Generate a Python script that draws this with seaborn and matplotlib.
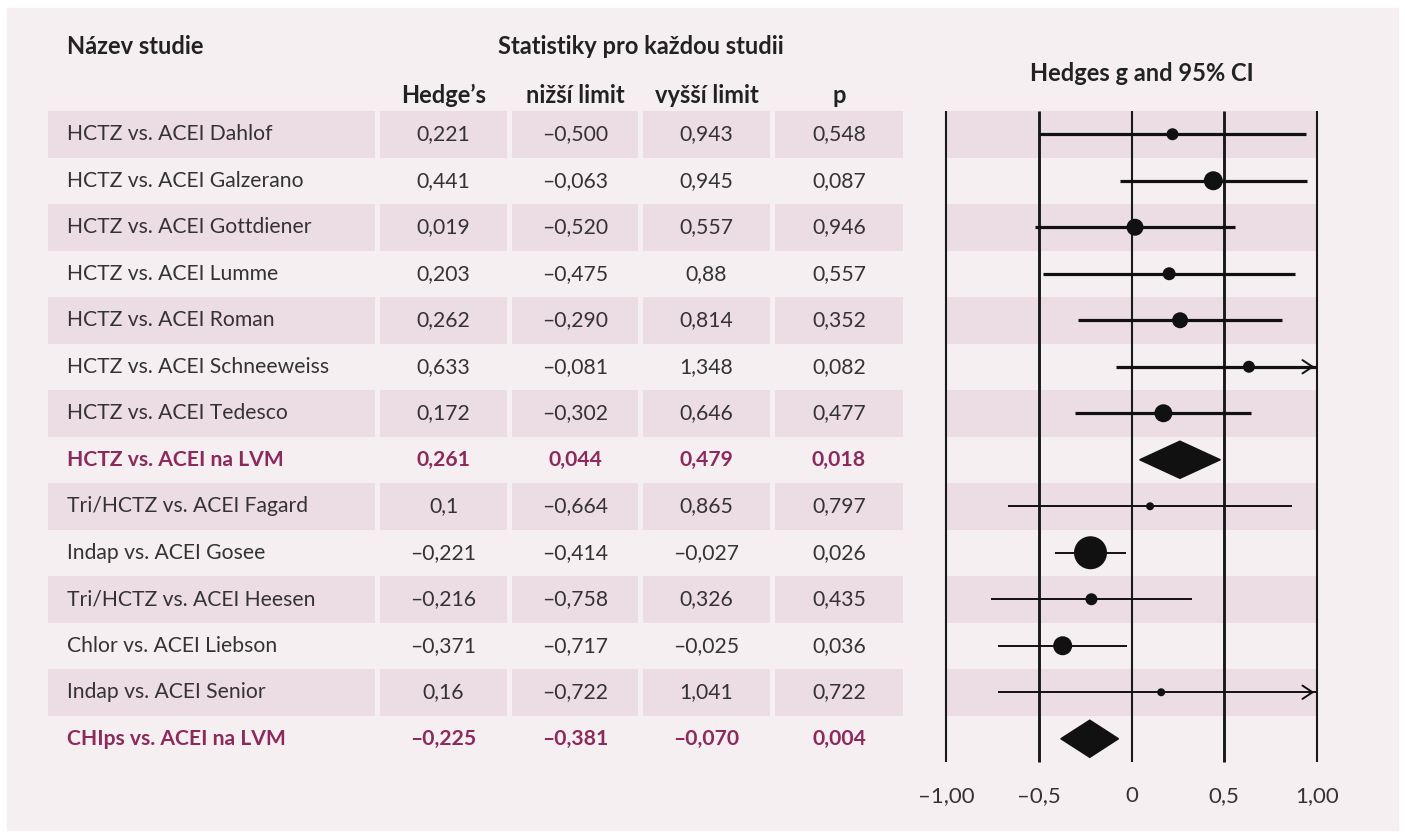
import matplotlib.pyplot as plt
import seaborn as sns
import pandas as pd
from matplotlib.patches import Rectangle, Polygon

# data
studies = ["HCTZ vs. ACEI Dahlof", "HCTZ vs. ACEI Galzerano", "HCTZ vs. ACEI Gottdiener",
           "HCTZ vs. ACEI Lumme", "HCTZ vs. ACEI Roman", "HCTZ vs. ACEI Schneeweiss",
           "HCTZ vs. ACEI Tedesco", "HCTZ vs. ACEI na LVM", "Tri/HCTZ vs. ACEI Fagard",
           "Indap vs. ACEI Gosee", "Tri/HCTZ vs. ACEI Heesen", "Chlor vs. ACEI Liebson",
           "Indap vs. ACEI Senior", "CHIps vs. ACEI na LVM"]
hedges = ["0,221", "0,441", "0,019", "0,203", "0,262", "0,633", "0,172", "0,261",
          "0,1", "–0,221", "–0,216", "–0,371", "0,16", "–0,225"]
lower = ["–0,500", "–0,063", "–0,520", "–0,475", "–0,290", "–0,081", "–0,302", "0,044",
         "–0,664", "–0,414", "–0,758", "–0,717", "–0,722", "–0,381"]
upper = ["0,943", "0,945", "0,557", "0,88", "0,814", "1,348", "0,646", "0,479",
         "0,865", "–0,027", "0,326", "–0,025", "1,041", "–0,070"]
pvals = ["0,548", "0,087", "0,946", "0,557", "0,352", "0,082", "0,477", "0,018",
         "0,797", "0,026", "0,435", "0,036", "0,722", "0,004"]
summary = [False] * 7 + [True] + [False] * 5 + [True]
weight_px = [12, 19, 17, 13, 16, 12, 18, 0, 8, 33, 12, 19, 8, 0]
group = ["HCTZ"] * 8 + ["other"] * 6

tick_vals = [-1, -0.5, 0, 0.5, 1]
tick_labels = ["–1,00", "–0,5", "0", "0,5", "1,00"]


def num(s):
    return float(s.replace("–", "-").replace(",", "."))


df = pd.DataFrame({"study": studies, "g": [num(v) for v in hedges],
                   "lo": [num(v) for v in lower], "hi": [num(v) for v in upper],
                   "summary": summary, "w": weight_px, "group": group})
df["row"] = range(len(df))

sns.set_theme(style="white")
plt.rcParams["font.family"] = ["Lato", "DejaVu Sans"]

BG = "#f5eff2"
STRIPE = "#ecdde4"
PURPLE = "#8c2a5c"
TXT = "#222222"
FS = 15.2
HFS = 17

fig = plt.figure(figsize=(14.05, 8.34), dpi=100)
fig.patch.set_facecolor("white")
fig.add_artist(Rectangle((7 / 1405, 4 / 834), 1391 / 1405, 822 / 834,
                         transform=fig.transFigure, color=BG, zorder=-10))

W, H = 1405, 834
bottom = (H - 762) / H
height = 651 / H

# ---- table part ----
tab = fig.add_axes([48 / W, bottom, 855 / W, height])
tab.set_xlim(0, 855)
tab.set_ylim(13.5, -0.5)
tab.axis("off")
cols = [(0, 327), (332, 459), (464, 590), (595, 722), (727, 855)]
for r in df["row"]:
    if r % 2 == 0:
        for a, b in cols:
            tab.add_patch(Rectangle((a, r - 0.5), b - a, 1, color=STRIPE, lw=0))

for _, d in df.iterrows():
    r = d["row"]
    color = PURPLE if d["summary"] else "#333333"
    weight = "bold" if d["summary"] else "normal"
    tab.text(19, r, d["study"], va="center", ha="left", fontsize=FS, color=color, weight=weight)
    for (a, b), val in zip(cols[1:], [hedges[r], lower[r], upper[r], pvals[r]]):
        tab.text((a + b) / 2, r, val, va="center", ha="center", fontsize=FS,
                 color=color, weight=weight)

tab.text(19, -1.89, "Název studie", va="center", ha="left", fontsize=HFS, weight="bold", color=TXT)
tab.text(593, -1.89, "Statistiky pro každou studii", va="center", ha="center",
         fontsize=HFS, weight="bold", color=TXT)
for (a, b), lab in zip(cols[1:], ["Hedge’s", "nižší limit", "vyšší limit", "p"]):
    tab.text((a + b) / 2, -0.84, lab, va="center", ha="center", fontsize=HFS,
             weight="bold", color=TXT)

# ---- forest part ----
ax = fig.add_axes([946 / W, bottom, 371 / W, height])
ax.set_xlim(-1, 1)
ax.set_ylim(13.5, -0.5)
ax.patch.set_alpha(0)
for s in ax.spines.values():
    s.set_visible(False)
for r in df["row"]:
    if r % 2 == 0:
        ax.axhspan(r - 0.5, r + 0.5, color=STRIPE, lw=0, zorder=0)

ax.vlines(tick_vals, -0.5, 13.5, colors="#1a1a1a",
          linewidths=[1.5, 2.1, 1.5, 2.1, 1.5], zorder=2, clip_on=False)

for _, d in df.iterrows():
    r = d["row"]
    if d["summary"]:
        ax.add_patch(Polygon([(d["lo"], r), (d["g"], r - 0.4), (d["hi"], r), (d["g"], r + 0.4)],
                             closed=True, color="#111111", zorder=4))
        continue
    lw = 2.3 if d["group"] == "HCTZ" else 1.4
    if d["hi"] > 1:
        ax.hlines(r, d["lo"], 1, color="#111111", lw=lw, zorder=3)
        ax.annotate("", xy=(1, r), xytext=(0.94, r),
                    arrowprops=dict(arrowstyle="->,head_length=0.6,head_width=0.4",
                                    color="#111111", lw=1.4), zorder=3,
                    annotation_clip=False)
    else:
        ax.hlines(r, d["lo"], d["hi"], color="#111111", lw=lw, zorder=3)

pts = df[~df["summary"]]
sizes = {s: (w / 1.389) ** 2 for s, w in zip(pts["study"], pts["w"])}
sns.scatterplot(data=pts, x="g", y="row", size="study", sizes=sizes, color="#111111",
                edgecolor="none", legend=False, ax=ax, zorder=5)

ax.set_xticks(tick_vals)
ax.set_xticklabels(tick_labels, fontsize=16, color="#333333")
ax.set_yticks([])
ax.tick_params(axis="x", length=0, pad=17)
ax.set_xlabel("")
ax.set_ylabel("")
ax.text(0.054, -1.31, "Hedges g and 95% CI", ha="center", va="center", fontsize=HFS,
        weight="bold", color=TXT, clip_on=False)

fig.savefig("out.png", dpi=100, facecolor=fig.get_facecolor())
